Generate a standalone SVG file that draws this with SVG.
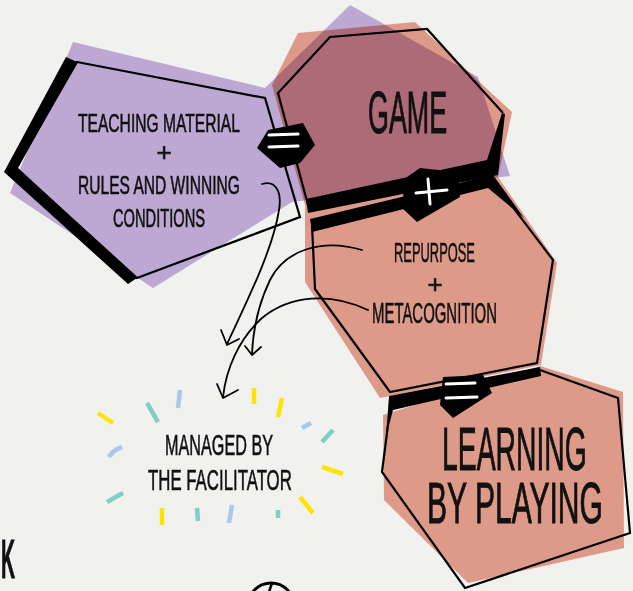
<svg xmlns="http://www.w3.org/2000/svg" width="633" height="591" viewBox="0 0 633 591">
<defs>
<style>
.bg{fill:#f1f1ef}
.purple{fill:#bca8d2}
.salmon{fill:#eba391;mix-blend-mode:multiply}
.line{fill:none;stroke:#000;stroke-width:2.2;stroke-linejoin:miter}
.band{fill:#000}
.t{font-family:"Liberation Sans",Arial,sans-serif;fill:#111;stroke:#111;stroke-width:0.6}
.big{font-family:"Liberation Sans",Arial,sans-serif;fill:#111;stroke:#111;stroke-width:1}
.wl{stroke:#fff;stroke-width:3;stroke-linecap:round;fill:none}
.arr{fill:none;stroke:#000;stroke-width:1.8;stroke-linecap:round;stroke-linejoin:round}
.c{stroke-width:4.5;fill:none}
.y{stroke:#ffe400}
.g{stroke:#7fd0c1}
.b{stroke:#a9c9ec}
</style>
</defs>
<rect class="bg" x="0" y="0" width="633" height="591"/>

<g id="backdrops">
<polygon class="purple" points="73,42 265,88 350,5 478,77 510,176 292,202 153,288 10,193"/>
<polygon class="salmon" points="298,33 415,22 512,112 498,177 557,263 541,365 380,398 305,282 305,205 272,85"/>
<polygon class="salmon" points="383,415 540,366 623,392 624,548 468,583 384,500"/>
</g>

<g id="node-teaching">
<polygon class="band" points="66,57 77,62 18,168 137,278 128,284 4,172"/>
<polygon class="line" points="77,62 265,98 300,217 137,278 16,168"/>
<text class="t" transform="translate(78,132) scale(0.62,1)" font-size="25" textLength="261" lengthAdjust="spacingAndGlyphs">TEACHING MATERIAL</text>
<text class="t" x="164" y="161" font-size="26" text-anchor="middle">+</text>
<text class="t" transform="translate(78,194) scale(0.62,1)" font-size="25" textLength="261" lengthAdjust="spacingAndGlyphs">RULES AND WINNING</text>
<text class="t" transform="translate(113,227) scale(0.586,1)" font-size="25" textLength="157" lengthAdjust="spacingAndGlyphs">CONDITIONS</text>
</g>

<g id="node-game">
<polyline class="line" points="308,205 278,93 330,37 427,29 503,113"/>
<polygon class="band" points="306,199 487,160 502,113 505,114 498,175 308,213"/>
<text class="big" transform="translate(368,133) scale(0.447,1)" font-size="60" textLength="177" lengthAdjust="spacingAndGlyphs">GAME</text>
</g>

<g id="node-repurpose">
<polyline class="line" points="312,225 315,289 390,392 537,363 553,260 490,177"/>
<polygon class="band" points="310,219 493,175 524,218 488,188 312,232"/>
<text class="t" transform="translate(394,262) scale(0.46,1)" font-size="28" textLength="176" lengthAdjust="spacingAndGlyphs">REPURPOSE</text>
<text class="t" x="435" y="293" font-size="26" text-anchor="middle">+</text>
<text class="t" transform="translate(372,323) scale(0.51,1)" font-size="29" textLength="245" lengthAdjust="spacingAndGlyphs">METACOGNITION</text>
</g>

<g id="node-learning">
<polyline class="line" points="540,370 618,398 630,533 465,588 382,472 388,425"/>
<polygon class="band" points="389,396 540,367 541,376 393,410 386,437"/>
<text class="big" transform="translate(442,470) scale(0.457,1)" font-size="62" textLength="317" lengthAdjust="spacingAndGlyphs">LEARNING</text>
<text class="big" transform="translate(427,523) scale(0.519,1)" font-size="57" textLength="339" lengthAdjust="spacingAndGlyphs">BY PLAYING</text>
</g>

<g id="badges">
<g id="badge-eq-top">
<polygon class="band" points="257,148 268,130 303,123 315,145 300,163 280,168"/>
<line class="wl" x1="269" y1="135" x2="298" y2="134"/>
<line class="wl" x1="269" y1="147" x2="298" y2="146"/>
</g>
<g id="badge-plus">
<polygon class="band" points="407,177 420,168 457,172 460,197 417,222 401,207"/>
<line class="wl" x1="428" y1="179" x2="430" y2="204" stroke-width="4"/>
<line class="wl" x1="416" y1="193" x2="447" y2="190" stroke-width="4"/>
</g>
<g id="badge-eq-bottom">
<polygon class="band" points="443,377 483,375 492,393 453,418 440,405"/>
<line class="wl" x1="446" y1="384" x2="475" y2="383"/>
<line class="wl" x1="446" y1="398" x2="477" y2="397"/>
</g>
</g>

<g id="node-facilitator">
<text class="t" transform="translate(165,455) scale(0.54,1)" font-size="30" textLength="200" lengthAdjust="spacingAndGlyphs">MANAGED BY</text>
<text class="t" transform="translate(148,490) scale(0.523,1)" font-size="30" textLength="275" lengthAdjust="spacingAndGlyphs">THE FACILITATOR</text>
<g id="confetti">
<line class="c y" x1="98" y1="413" x2="113" y2="423"/>
<line class="c g" x1="147" y1="403" x2="158" y2="422"/>
<line class="c b" x1="180" y1="390" x2="178" y2="408"/>
<line class="c y" x1="254" y1="388" x2="254" y2="404"/>
<line class="c y" x1="282" y1="398" x2="278" y2="417"/>
<line class="c b" x1="302" y1="428" x2="311" y2="423"/>
<line class="c g" x1="322" y1="442" x2="333" y2="430"/>
<line class="c y" x1="322" y1="467" x2="343" y2="474"/>
<line class="c y" x1="300" y1="497" x2="313" y2="513"/>
<line class="c g" x1="278" y1="510" x2="278" y2="518"/>
<line class="c b" x1="232" y1="505" x2="229" y2="523"/>
<line class="c g" x1="197" y1="508" x2="198" y2="521"/>
<line class="c y" x1="162" y1="508" x2="162" y2="525"/>
<line class="c g" x1="107" y1="502" x2="123" y2="493"/>
<path class="c b" d="M109,457 Q113,450 122,447"/>
</g>
</g>

<g id="connectors">
<path class="arr" d="M262,184 C276,180 282,192 279,210 C273,250 245,305 227,344"/>
<polyline class="arr" points="221,330 227,345 239,339"/>
<path class="arr" d="M362,250 C322,238 285,250 270,280 C258,305 253,330 252,354"/>
<polyline class="arr" points="245,346 252,355 261,347"/>
<path class="arr" d="M368,310 C330,292 290,295 262,318 C238,340 226,370 223,397"/>
<polyline class="arr" points="217,384 223,398 238,390"/>
</g>

<g id="fragments">
<text class="big" transform="translate(1,578) scale(0.35,1)" font-size="56" font-weight="700" textLength="40" lengthAdjust="spacingAndGlyphs">K</text>
<circle cx="271" cy="606" r="23" fill="none" stroke="#000" stroke-width="3"/>
<line x1="272" y1="583" x2="268" y2="595" stroke="#000" stroke-width="2.5"/>
</g>
</svg>
